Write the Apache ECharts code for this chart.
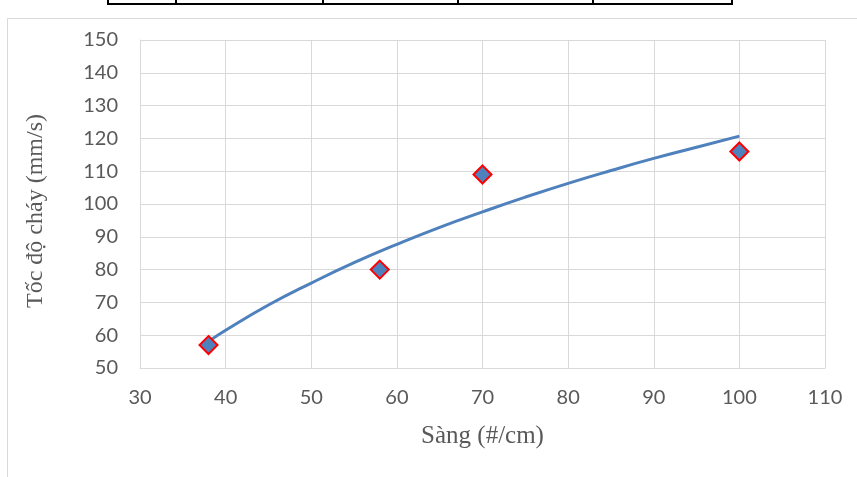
<!DOCTYPE html>
<html>
<head>
<meta charset="utf-8">
<script src="https://cdn.jsdelivr.net/npm/echarts@6/dist/echarts.min.js"></script>
<style>
html,body{margin:0;padding:0;background:#fff;}
#chart{width:857px;height:477px;}
</style>
</head>
<body>
<div id="chart"></div>
<script>
// Measured samples: sieve size (#/cm) vs burning rate (mm/s)
const sieveSizes = [38, 58, 70, 100];
const burnRates = [57, 80, 109, 116];

// Logarithmic trend line
const trendX = [38, 40, 45, 50, 55, 60, 65, 70, 75, 80, 85, 90, 95, 100];
const trendY = [58.1, 61.5, 69.2, 75.9, 82.1, 87.7, 92.9, 97.6, 102.1, 106.3, 110.2, 113.9, 117.3, 120.7];

const xTicks = [30, 40, 50, 60, 70, 80, 90, 100, 110];
const yTicks = [50, 60, 70, 80, 90, 100, 110, 120, 130, 140, 150];

const chart = echarts.init(document.getElementById('chart'), null, {renderer: 'canvas'});

const tableCols = [108, 176, 323, 458, 593, 732];
const graphics = [
  {type: 'rect', shape: {x: 7.5, y: 18.5, width: 860, height: 470}, style: {fill: 'none', stroke: '#d9d9d9', lineWidth: 1}, z: 0},
  {type: 'line', shape: {x1: 107, y1: 4, x2: 733, y2: 4}, style: {stroke: '#000', lineWidth: 2}}
];
tableCols.forEach(function (x) {
  graphics.push({type: 'line', shape: {x1: x, y1: 0, x2: x, y2: 5}, style: {stroke: '#000', lineWidth: 2}});
});

const tickFont = 'Lato, Open Sans, sans-serif';

chart.setOption({
  animation: false,
  backgroundColor: '#fff',
  graphic: graphics,
  grid: {left: 140, right: 32, top: 40, bottom: 109, containLabel: false},
  xAxis: {
    type: 'value',
    min: xTicks[0], max: xTicks[xTicks.length - 1], interval: 10,
    name: 'Sàng (#/cm)',
    nameLocation: 'middle', nameGap: 56,
    nameTextStyle: {fontFamily: 'Liberation Serif', fontSize: 25, color: '#595959'},
    axisLine: {show: true, lineStyle: {color: '#d9d9d9', width: 1}},
    axisTick: {show: false},
    axisLabel: {fontFamily: tickFont, fontSize: 20, color: '#595959', margin: 20},
    splitLine: {show: true, lineStyle: {color: '#d9d9d9', width: 1}}
  },
  yAxis: {
    type: 'value',
    min: yTicks[0], max: yTicks[yTicks.length - 1], interval: 10,
    name: 'Tốc độ cháy (mm/s)',
    nameLocation: 'middle', nameGap: 92,
    nameTextStyle: {fontFamily: 'Liberation Serif', fontSize: 24, color: '#595959', padding: [0, 14, 0, 0]},
    axisLine: {show: true, lineStyle: {color: '#d9d9d9', width: 1}},
    axisTick: {show: false},
    axisLabel: {fontFamily: tickFont, fontSize: 20, color: '#595959', margin: 22},
    splitLine: {show: true, lineStyle: {color: '#d9d9d9', width: 1}}
  },
  series: [
    {
      type: 'line',
      data: trendX.map(function (x, i) { return [x, trendY[i]]; }),
      smooth: true,
      showSymbol: false,
      lineStyle: {color: '#4f81bd', width: 3},
      z: 2
    },
    {
      type: 'scatter',
      data: sieveSizes.map(function (x, i) { return [x, burnRates[i]]; }),
      symbol: 'diamond',
      symbolSize: [18, 18],
      itemStyle: {color: '#4f81bd', borderColor: '#ff0000', borderWidth: 2, opacity: 1},
      z: 3
    }
  ]
});
</script>
</body>
</html>
